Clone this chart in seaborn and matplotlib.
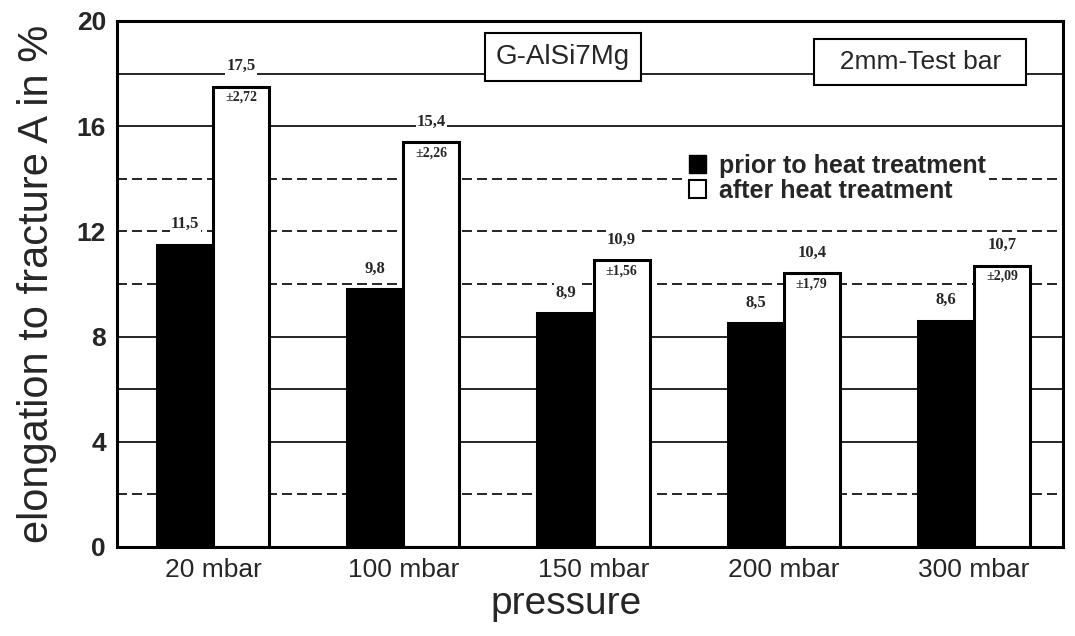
import pandas as pd
import seaborn as sns
import matplotlib.pyplot as plt
from matplotlib.patches import Patch

# --- data ---
pressures = ['20 mbar', '100 mbar', '150 mbar', '200 mbar', '300 mbar']
prior = [11.5, 9.8, 8.9, 8.5, 8.6]
after = [17.5, 15.4, 10.9, 10.4, 10.7]
after_sd = ['±2,72', '±2,26', '±1,56', '±1,79', '±2,09']
states = ['prior to heat treatment', 'after heat treatment']

df = pd.DataFrame({
    'pressure': pressures * 2,
    'elongation': prior + after,
    'state': [states[0]] * len(prior) + [states[1]] * len(after),
})

sns.set_style('white')
plt.rcParams['font.family'] = ['Liberation Sans', 'DejaVu Sans']

fig = plt.figure(figsize=(10.75, 6.36), dpi=100)
ax = fig.add_axes([0.109, 0.14, 0.88, 0.827])

# horizontal grid, mix of solid and dashed lines like the original
for y in range(2, 20, 2):
    ls = '-' if y in (4, 6, 8, 16, 18) else (0, (6, 3))
    ax.axhline(y, color='black', lw=1.2, ls=ls, zorder=0)

sns.barplot(data=df, x='pressure', y='elongation', hue='state',
            palette=['black', 'white'], saturation=1, edgecolor='black',
            linewidth=2.2, width=0.59, legend=False, ax=ax, zorder=2)

serif = ['Liberation Serif', 'DejaVu Serif']

# value labels above the bars
for cont, vals in zip(ax.containers, [prior, after]):
    for bar, v in zip(cont, vals):
        ax.annotate(f'{v:.1f}'.replace('.', ','),
                    (bar.get_x() + bar.get_width() / 2, bar.get_height()),
                    xytext=(0, 9), textcoords='offset points',
                    ha='center', va='bottom', fontsize=12, fontweight='bold',
                    family=serif, bbox=dict(fc='white', ec='none', pad=1),
                    zorder=3)

# std deviation inside the white bars
for bar, s in zip(ax.containers[1], after_sd):
    ax.annotate(s, (bar.get_x() + bar.get_width() / 2, bar.get_height()),
                xytext=(0, -3), textcoords='offset points',
                ha='center', va='top', fontsize=10, fontweight='bold',
                family=serif, zorder=3)

ax.set_ylim(0, 20)
ax.set_xlim(-0.505, 4.47)
ax.set_yticks([0, 4, 8, 12, 16, 20])
ax.tick_params(axis='y', labelsize=19, length=0, pad=8)
ax.tick_params(axis='x', labelsize=18, length=0, pad=8)
for lab in ax.get_yticklabels():
    lab.set_fontweight('bold')
for lab in ax.get_xticklabels():
    lab.set_family(['Liberation Sans Narrow', 'Liberation Sans'])
    lab.set_fontsize(19)
for sp in ax.spines.values():
    sp.set_linewidth(2.2)
    sp.set_color('black')

ax.set_ylabel('elongation to fracture A in %', fontsize=30)
ax.yaxis.set_label_coords(-0.064, 0.5)
ax.set_xlabel('pressure', fontsize=28)
ax.xaxis.set_label_coords(0.475, -0.075)

box = dict(boxstyle='square,pad=0.4', fc='white', ec='black', lw=1.5)
ax.text(0.471, 0.932, 'G-AlSi7Mg', transform=ax.transAxes, ha='center',
        va='center', fontsize=20, bbox=box, zorder=4)
ax.text(0.849, 0.922, '  2mm-Test bar  ', transform=ax.transAxes, ha='center',
        va='center', fontsize=19, bbox=box, zorder=4)

handles = [Patch(facecolor='black', edgecolor='black'),
           Patch(facecolor='white', edgecolor='black', linewidth=1.5)]
leg = ax.legend(handles, states, loc='upper left', bbox_to_anchor=(0.6, 0.755),
                frameon=True, fancybox=False, framealpha=1,
                facecolor='white', edgecolor='none',
                prop={'size': 18, 'weight': 'bold'},
                handlelength=0.7, handleheight=0.7, handletextpad=0.5,
                labelspacing=0.05, borderaxespad=0, borderpad=0.15)

fig.savefig('out.png', dpi=100)
